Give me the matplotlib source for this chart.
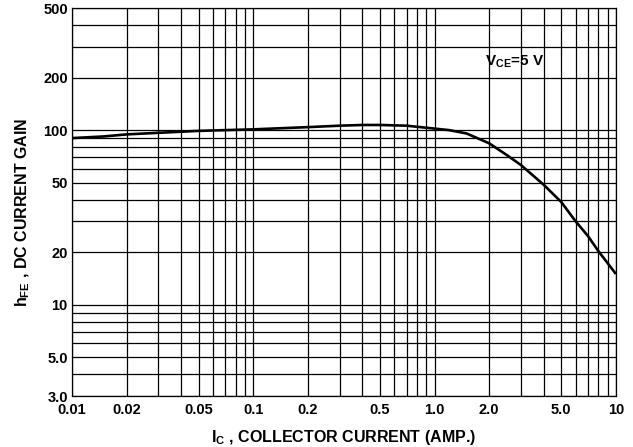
import matplotlib

matplotlib.use("Agg")
import matplotlib.pyplot as plt
from matplotlib.ticker import FixedLocator, FixedFormatter, LogLocator, NullFormatter

plt.rcParams["font.family"] = ["Liberation Sans", "DejaVu Sans"]
plt.rcParams["font.weight"] = "bold"
plt.rcParams["mathtext.fontset"] = "custom"
plt.rcParams["mathtext.rm"] = "Liberation Sans:bold"
plt.rcParams["mathtext.bf"] = "Liberation Sans:bold"
plt.rcParams["mathtext.default"] = "bf"

# collector current (A) vs DC current gain
ic = [0.01, 0.015, 0.02, 0.03, 0.05, 0.1, 0.2, 0.3, 0.4, 0.5, 0.7, 1.0, 1.2, 1.5,
      2.0, 2.5, 3.0, 4.0, 5.0, 6.0, 7.0, 8.0, 10.0]
hfe = [90, 92, 94.5, 96.5, 99, 101, 104, 106, 107, 107, 106, 102, 100, 95.7,
       84, 72, 63, 48.6, 38.7, 30, 24.8, 20.3, 15]

xticks = [0.01, 0.02, 0.05, 0.1, 0.2, 0.5, 1.0, 2.0, 5.0, 10]
xticklabels = ["0.01", "0.02", "0.05", "0.1", "0.2", "0.5", "1.0", "2.0", "5.0", "10"]
yticks = [3, 5, 10, 20, 50, 100, 200, 500]
yticklabels = ["3.0", "5.0", "10", "20", "50", "100", "200", "500"]

fig = plt.figure(figsize=(6.33, 4.47), dpi=100)
ax = fig.add_axes([0.1137, 0.114, 0.8593, 0.868])

ax.set_xscale("log")
ax.set_yscale("log")
ax.set_xlim(0.01, 10)
ax.set_ylim(3, 500)

ax.plot(ic, hfe, color="black", lw=1.9, solid_capstyle="butt")

# full log grid, major + minor, all the same black hairline
ax.xaxis.set_minor_locator(LogLocator(base=10, subs=range(2, 10)))
ax.yaxis.set_minor_locator(LogLocator(base=10, subs=range(2, 10)))
ax.xaxis.set_minor_formatter(NullFormatter())
ax.yaxis.set_minor_formatter(NullFormatter())
ax.grid(True, which="both", color="black", lw=0.9)

ax.xaxis.set_major_locator(FixedLocator(xticks))
ax.xaxis.set_major_formatter(FixedFormatter(xticklabels))
ax.yaxis.set_major_locator(FixedLocator(yticks))
ax.yaxis.set_major_formatter(FixedFormatter(yticklabels))
ax.tick_params(which="both", length=0)
ax.tick_params(axis="x", pad=5, labelsize=10.5)
ax.tick_params(axis="y", pad=3, labelsize=10.5)
for sp in ax.spines.values():
    sp.set_linewidth(0.9)

ax.set_xlabel("I$_{C}$ , COLLECTOR CURRENT (AMP.)", fontsize=11.5, fontweight="bold", labelpad=8)
ax.set_ylabel("h$_{FE}$ , DC CURRENT GAIN", fontsize=11.5, fontweight="bold", labelpad=8)
ax.yaxis.label.set_y(0.474)   # label sits a bit below the axes centre

ax.text(1.9, 245, "V$_{CE}$=5 V", fontsize=11, fontweight="bold", va="center", ha="left")

fig.savefig("out.png", dpi=100)
